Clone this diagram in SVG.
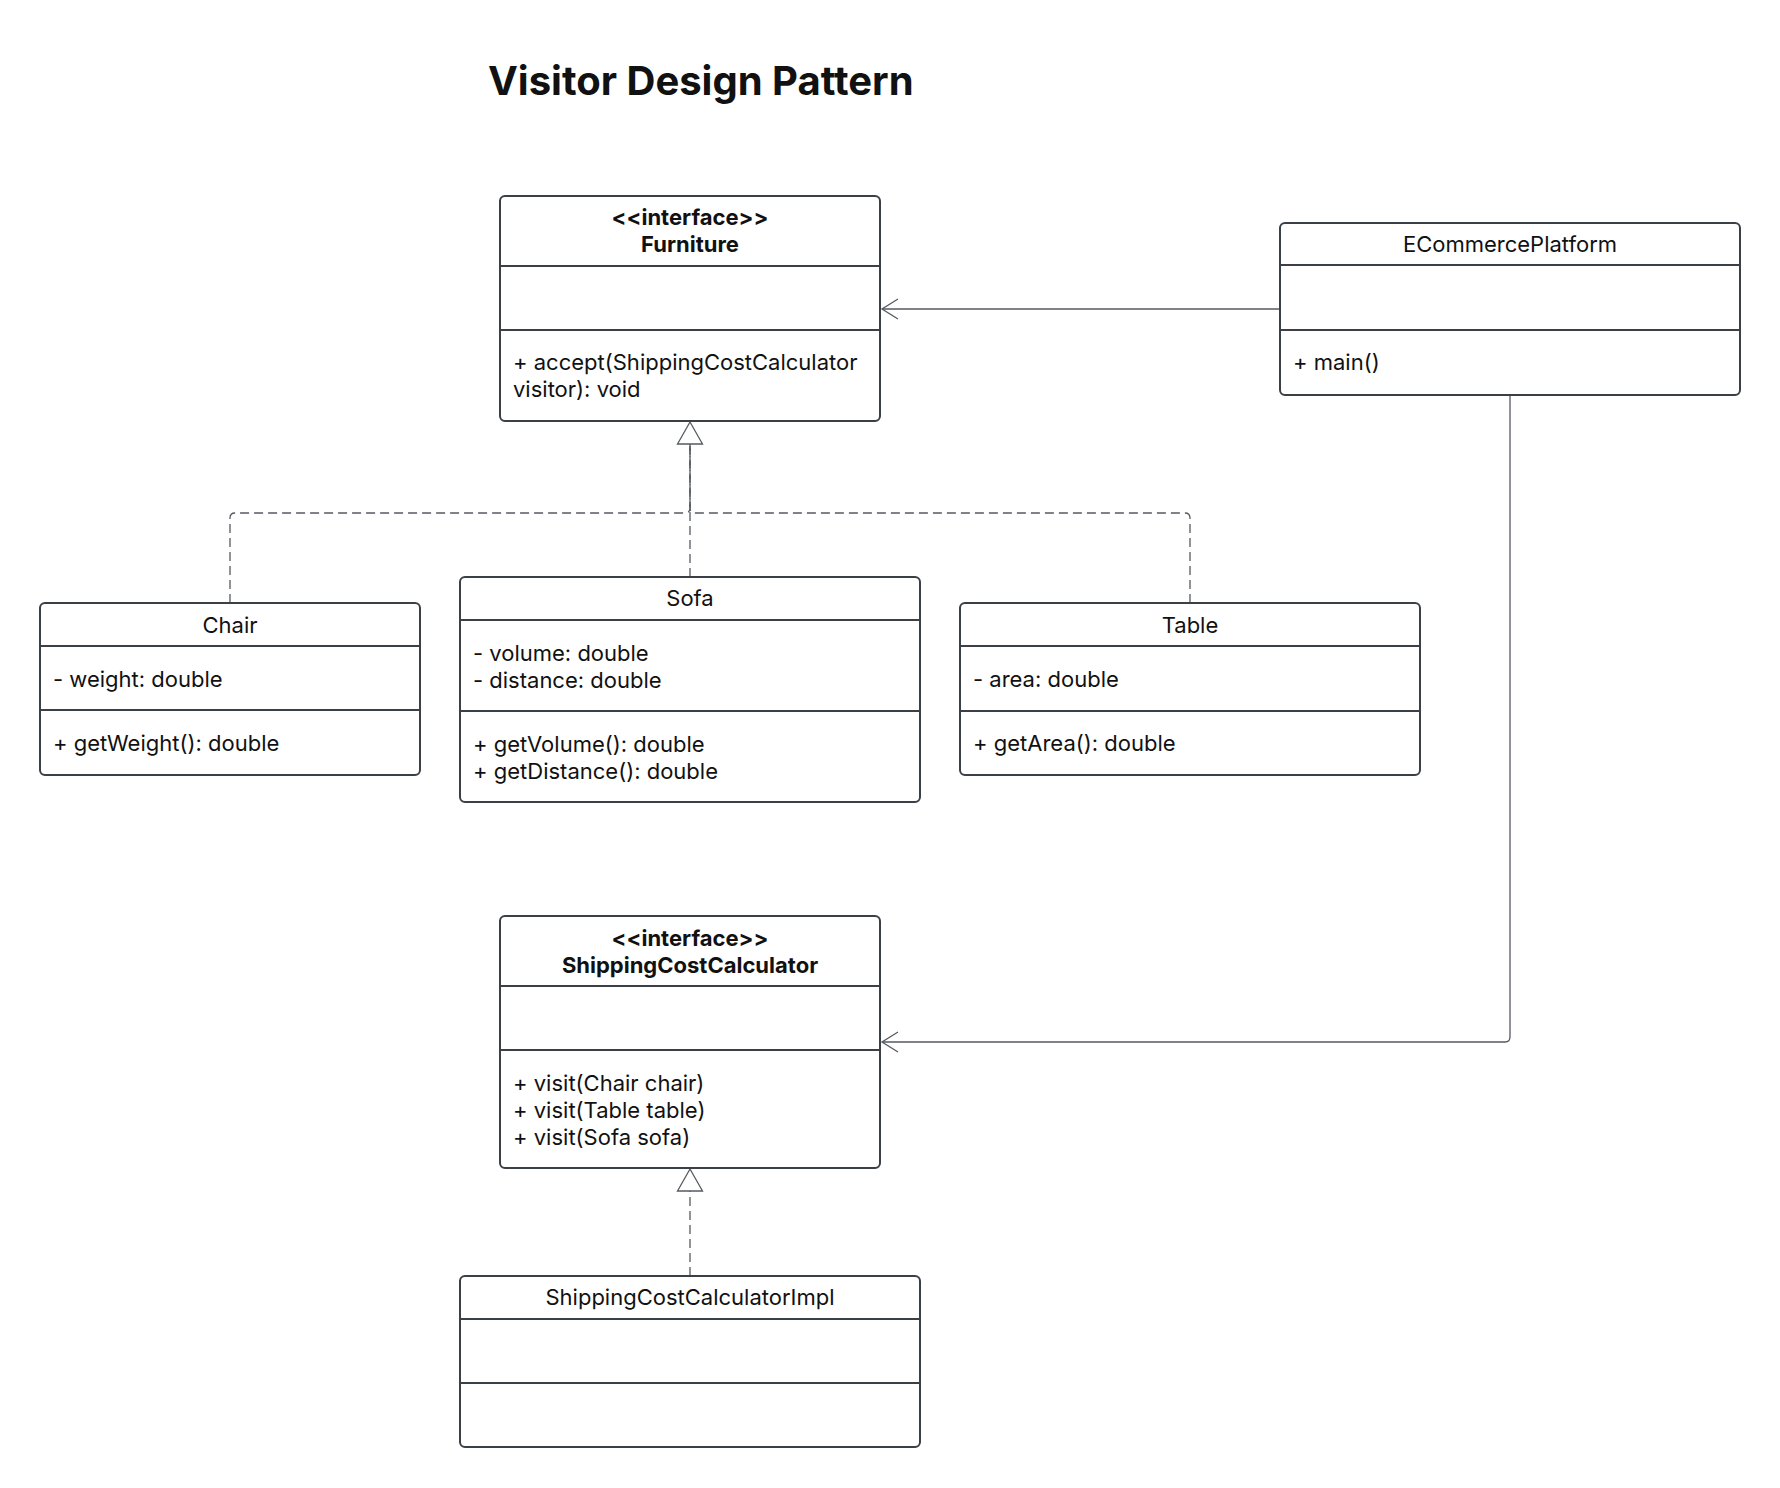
<svg xmlns="http://www.w3.org/2000/svg" width="1780" height="1488" viewBox="0 0 1780 1488">
<style>
.box{fill:#ffffff;stroke:#3b3f46;stroke-width:2}
.div{stroke:#3b3f46;stroke-width:2}
.t{font-family:Inter,"Liberation Sans",sans-serif;font-size:22px;fill:#111111}
.c{text-anchor:middle}
.b{font-weight:bold}
.title{font-family:Inter,"Liberation Sans",sans-serif;font-size:40px;font-weight:bold;fill:#111111}
.edge{fill:none;stroke:#555a61;stroke-width:1.3}
.dash{stroke-dasharray:9 5}
.tri{fill:#ffffff;stroke:#555a61;stroke-width:1.3}
</style>
<rect width="1780" height="1488" fill="#ffffff"/>
<text class="title" x="488" y="95">Visitor Design Pattern</text>

<g id="connectors">
  <path class="edge dash" d="M230,603 V518 Q230,513 235,513 H685 Q690,513 690,508 V444"/>
  <path class="edge dash" d="M1190,603 V518 Q1190,513 1185,513 H695 Q690,513 690,508 V444"/>
  <path class="edge dash" d="M690,577 V444"/>
  <polygon class="tri" points="690,422 702.5,444 677.5,444"/>
  <path class="edge dash" d="M690,1276 V1191"/>
  <polygon class="tri" points="690,1169 702.5,1191 677.5,1191"/>
  <path class="edge" d="M1280,309 H882"/>
  <path class="edge" d="M898,299 L882,309 L898,319"/>
  <path class="edge" d="M1510,395 V1037 Q1510,1042 1505,1042 H882"/>
  <path class="edge" d="M898,1032 L882,1042 L898,1052"/>
</g>

<g id="Furniture">
  <rect class="box" x="500" y="196" width="380" height="225" rx="5"/>
  <line class="div" x1="500" y1="266" x2="880" y2="266"/>
  <line class="div" x1="500" y1="330" x2="880" y2="330"/>
  <text class="t c b" x="690" y="225">&lt;&lt;interface&gt;&gt;</text>
  <text class="t c b" x="690" y="252">Furniture</text>
  <text class="t" x="513" y="370">+ accept(ShippingCostCalculator</text>
  <text class="t" x="513" y="397">visitor): void</text>
</g>

<g id="ECommercePlatform">
  <rect class="box" x="1280" y="223" width="460" height="172" rx="5"/>
  <line class="div" x1="1280" y1="265" x2="1740" y2="265"/>
  <line class="div" x1="1280" y1="330" x2="1740" y2="330"/>
  <text class="t c" x="1510" y="252">ECommercePlatform</text>
  <text class="t" x="1293" y="370">+ main()</text>
</g>

<g id="Chair">
  <rect class="box" x="40" y="603" width="380" height="172" rx="5"/>
  <line class="div" x1="40" y1="646" x2="420" y2="646"/>
  <line class="div" x1="40" y1="710" x2="420" y2="710"/>
  <text class="t c" x="230" y="633">Chair</text>
  <text class="t" x="53" y="687">- weight: double</text>
  <text class="t" x="53" y="751">+ getWeight(): double</text>
</g>

<g id="Sofa">
  <rect class="box" x="460" y="577" width="460" height="225" rx="5"/>
  <line class="div" x1="460" y1="620" x2="920" y2="620"/>
  <line class="div" x1="460" y1="711" x2="920" y2="711"/>
  <text class="t c" x="690" y="606">Sofa</text>
  <text class="t" x="473" y="661">- volume: double</text>
  <text class="t" x="473" y="688">- distance: double</text>
  <text class="t" x="473" y="752">+ getVolume(): double</text>
  <text class="t" x="473" y="779">+ getDistance(): double</text>
</g>

<g id="Table">
  <rect class="box" x="960" y="603" width="460" height="172" rx="5"/>
  <line class="div" x1="960" y1="646" x2="1420" y2="646"/>
  <line class="div" x1="960" y1="711" x2="1420" y2="711"/>
  <text class="t c" x="1190" y="633">Table</text>
  <text class="t" x="973" y="687">- area: double</text>
  <text class="t" x="973" y="751">+ getArea(): double</text>
</g>

<g id="ShippingCostCalculator">
  <rect class="box" x="500" y="916" width="380" height="252" rx="5"/>
  <line class="div" x1="500" y1="986" x2="880" y2="986"/>
  <line class="div" x1="500" y1="1050" x2="880" y2="1050"/>
  <text class="t c b" x="690" y="946">&lt;&lt;interface&gt;&gt;</text>
  <text class="t c b" x="690" y="973">ShippingCostCalculator</text>
  <text class="t" x="513" y="1091">+ visit(Chair chair)</text>
  <text class="t" x="513" y="1118">+ visit(Table table)</text>
  <text class="t" x="513" y="1145">+ visit(Sofa sofa)</text>
</g>

<g id="ShippingCostCalculatorImpl">
  <rect class="box" x="460" y="1276" width="460" height="171" rx="5"/>
  <line class="div" x1="460" y1="1319" x2="920" y2="1319"/>
  <line class="div" x1="460" y1="1383" x2="920" y2="1383"/>
  <text class="t c" x="690" y="1305">ShippingCostCalculatorImpl</text>
</g>
</svg>
